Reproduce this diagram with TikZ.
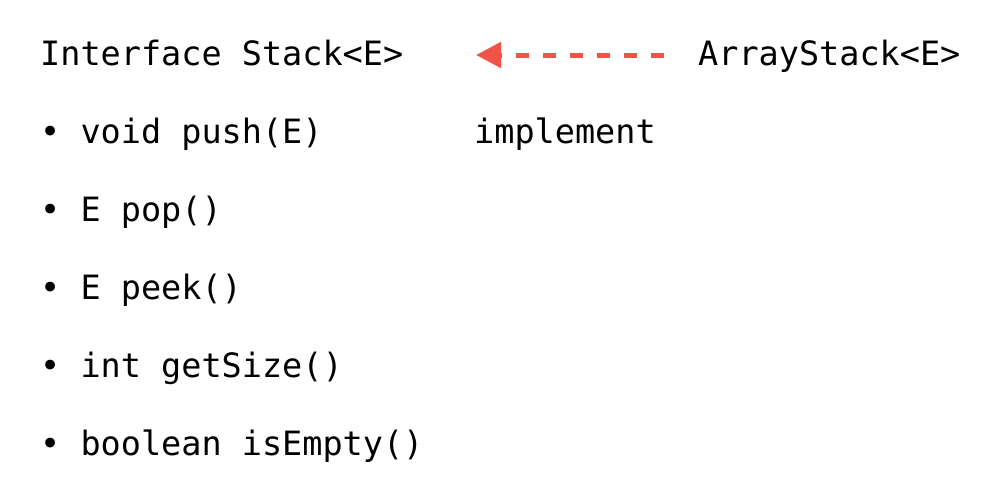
\documentclass[tikz,border=0pt]{standalone}
\usepackage{fontspec}
\setmonofont{DejaVu Sans Mono}
\usetikzlibrary{arrows.meta}
\definecolor{implred}{RGB}{240,84,72}

\begin{document}
\begin{tikzpicture}[x=1pt, y=-1pt, >=stealth,
    code/.style={anchor=base west, inner sep=0pt, font=\ttfamily\fontsize{33.5}{40}\selectfont},
    implarrow/.style={implred, line width=5pt, dash pattern=on 13pt off 14pt, -{Triangle[length=25pt, width=25pt]}}]
    \useasboundingbox (0,0) rectangle (1007,479);
    % interface and its methods
    \node[code] (stack) at (40,65) {Interface Stack<E>};
    \node[code] (push) at (40,143) {• void push(E)};
    \node[code] (pop) at (40,221) {• E pop()};
    \node[code] (peek) at (40,299) {• E peek()};
    \node[code] (size) at (40,377) {• int getSize()};
    \node[code] (empty) at (40,455) {• boolean isEmpty()};
    % implementing class
    \node[code] (array) at (698,65) {ArrayStack<E>};
    \node[code] (impl) at (474,143) {implement};
    \coordinate (tail) at (664,55);
    \coordinate (tip) at (476,55);
    \draw[implarrow] (tail) -- (tip);
\end{tikzpicture}
\end{document}
